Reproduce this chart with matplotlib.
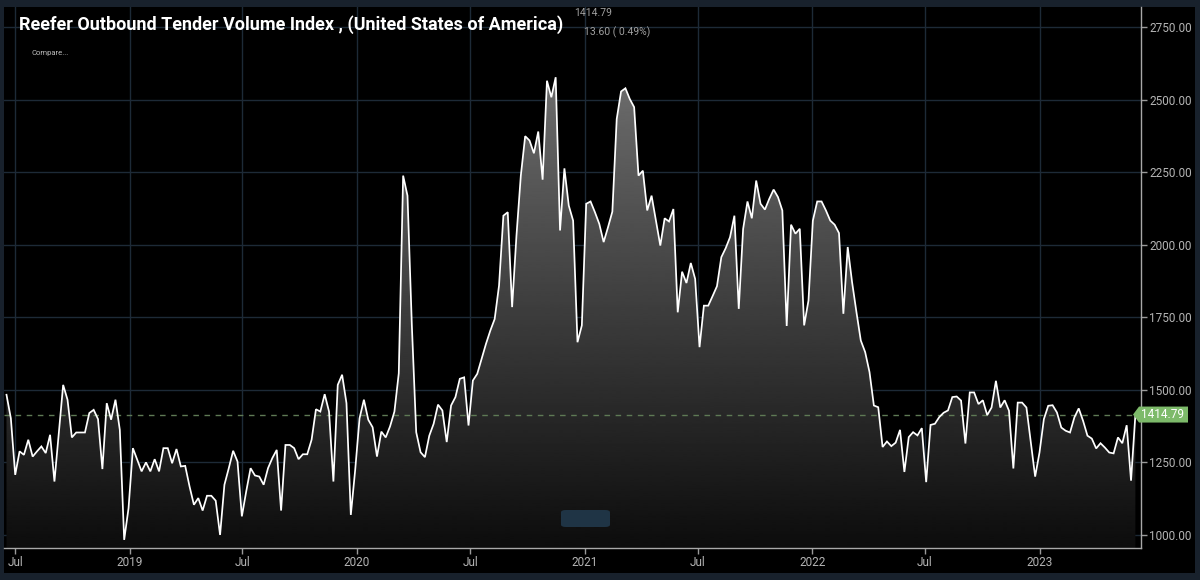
import numpy as np
import pandas as pd
import matplotlib
matplotlib.use("Agg")
import matplotlib.pyplot as plt
from matplotlib.patches import Polygon, FancyBboxPatch, Rectangle
from matplotlib.transforms import IdentityTransform

# weekly values
index_values = [
    1483, 1402, 1207, 1288, 1276, 1328, 1270, 1288, 1305, 1282,
    1345, 1184, 1350, 1517, 1466, 1336, 1353, 1353, 1353, 1420,
    1431, 1399, 1227, 1454, 1397, 1466, 1362, 983, 1092, 1299,
    1259, 1219, 1250, 1219, 1261, 1219, 1299, 1299, 1247, 1296,
    1236, 1238, 1167, 1104, 1127, 1084, 1135, 1135, 1118, 1000,
    1173, 1230, 1290, 1253, 1064, 1150, 1230, 1205, 1201, 1173,
    1230, 1265, 1293, 1084, 1310, 1310, 1299, 1261, 1278, 1278,
    1328, 1433, 1425, 1485, 1425, 1184, 1517, 1552, 1454, 1069,
    1224, 1402, 1466, 1397, 1371, 1270, 1356, 1336, 1374, 1425,
    1557, 2238, 2169, 1722, 1354, 1285, 1268, 1342, 1383, 1449,
    1429, 1320, 1446, 1475, 1538, 1543, 1377, 1532, 1555, 1607,
    1658, 1704, 1744, 1859, 2100, 2112, 1785, 2031, 2238, 2374,
    2359, 2315, 2390, 2224, 2565, 2508, 2577, 2049, 2263, 2135,
    2083, 1664, 1722, 2141, 2149, 2112, 2072, 2009, 2060, 2114,
    2433, 2528, 2539, 2502, 2474, 2238, 2255, 2118, 2169, 2083,
    1997, 2091, 2080, 2123, 1767, 1907, 1868, 1937, 1882, 1647,
    1790, 1790, 1823, 1857, 1957, 1988, 2026, 2100, 1779, 2054,
    2149, 2091, 2221, 2141, 2121, 2158, 2190, 2164, 2118, 1720,
    2069, 2038, 2055, 1722, 1808, 2083, 2149, 2149, 2118, 2083,
    2069, 2040, 1762, 1992, 1871, 1768, 1670, 1630, 1561, 1446,
    1440, 1303, 1322, 1306, 1318, 1362, 1217, 1337, 1354, 1343,
    1368, 1182, 1379, 1383, 1406, 1421, 1429, 1475, 1477, 1463,
    1315, 1491, 1491, 1451, 1464, 1413, 1439, 1531, 1439, 1464,
    1428, 1229, 1456, 1456, 1439, 1319, 1201, 1284, 1399, 1445,
    1447, 1422, 1370, 1359, 1353, 1405, 1436, 1393, 1342, 1332,
    1298, 1316, 1301, 1284, 1281, 1336, 1316, 1378, 1187, 1414.79,
]
start_date = "2018-06-17"
last_value = 1414.79
change_text = "13.60 ( 0.49%)"
title = "Reefer Outbound Tender Volume Index , (United States of America)"

x_tick_dates = ["2018-07-01", "2019-01-01", "2019-07-01", "2020-01-01", "2020-07-01",
                "2021-01-01", "2021-07-01", "2022-01-01", "2022-07-01", "2023-01-01"]
x_tick_labels = ["Jul", "2019", "Jul", "2020", "Jul", "2021", "Jul", "2022", "Jul", "2023"]
y_ticks = [1000, 1250, 1500, 1750, 2000, 2250, 2500, 2750]

W, H = 1200, 580
dates = pd.date_range(start_date, periods=len(index_values), freq="7D")
xnum = matplotlib.dates.date2num(dates)
ylo, yhi = 955, 2819
xlo = matplotlib.dates.date2num(pd.Timestamp("2018-06-13"))
xhi = matplotlib.dates.date2num(pd.Timestamp("2023-06-13"))

fig = plt.figure(figsize=(W / 100, H / 100), dpi=100, facecolor="#18212c")
fig.patches.append(Rectangle((4 / W, 7 / H), 1191 / W, 566 / H, transform=fig.transFigure,
                             facecolor="black", edgecolor="none", zorder=-5))
ax = fig.add_axes([4 / W, (H - 548) / H, 1137 / W, 541 / H])
ax.set_zorder(1)
ax.set_facecolor("black")
ax.set_xlim(xlo, xhi)
ax.set_ylim(ylo, yhi)

# gradient fill under the line
levels = np.linspace(ylo, yhi, 300)
shade = np.clip(0.06 + (levels - 1000) * 0.000232, 0.04, 1)[:, None]
im = ax.imshow(shade, cmap="gray", vmin=0, vmax=1, origin="lower", aspect="auto",
               extent=[xlo, xhi, ylo, yhi], zorder=1, interpolation="bilinear")
fill = ax.fill_between(xnum, index_values, ylo, color="none", lw=0)
im.set_clip_path(fill.get_paths()[0], transform=ax.transData)

ax.plot(xnum, index_values, color="white", lw=1.25, zorder=3, solid_joinstyle="miter")
ax.axhline(last_value, color="#5f7a55", lw=1, ls=(0, (4, 4)), zorder=2)

ax.set_xticks(matplotlib.dates.date2num(pd.to_datetime(x_tick_dates)))
ax.set_xticklabels(x_tick_labels)
ax.set_yticks(y_ticks)
ax.set_yticklabels(["%.2f" % v for v in y_ticks])
ax.yaxis.tick_right()
ax.grid(True, color="#1d2a37", lw=1, zorder=0)
ax.set_axisbelow(True)
ax.tick_params(axis="both", colors="#9a9a9a", labelcolor="#b4b4b4", length=4, width=1,
               labelsize=8.5, pad=2)
for lab in ax.get_xticklabels() + ax.get_yticklabels():
    lab.set_fontfamily(["Roboto", "DejaVu Sans"])
for side in ["top", "left"]:
    ax.spines[side].set_visible(False)
for side in ["right", "bottom"]:
    ax.spines[side].set_color("#a8a8a8")
    ax.spines[side].set_linewidth(1)

# title and header texts
fig.text(19 / W, 1 - 25 / H, title, color="white", fontsize=13, fontweight="bold",
         family=["Roboto", "DejaVu Sans"], va="center", ha="left", zorder=5)
fig.text(574 / W, 1 - 13 / H, "%.2f" % last_value, color="#a0a0a0", fontsize=7.5,
         family=["Roboto", "DejaVu Sans"], va="center", ha="left", zorder=5)
fig.text(584 / W, 1 - 32 / H, change_text, color="#a0a0a0", fontsize=7.5,
         family=["Roboto", "DejaVu Sans"], va="center", ha="left", zorder=5)
fig.text(31 / W, 1 - 53 / H, "Compare...", color="#bdbdbd", fontsize=5.5,
         family=["Roboto", "DejaVu Sans"], va="center", ha="left", zorder=5)

# scrollbar button
fig.patches.append(FancyBboxPatch((561 / W, (H - 527) / H), 49 / W, 17 / H,
                                  boxstyle="round,pad=0,rounding_size=0.004",
                                  transform=fig.transFigure, facecolor="#1f3445",
                                  edgecolor="none", zorder=5))

# last value marker on the axis
fig.canvas.draw()
px, py = ax.get_yaxis_transform().transform((1.0, last_value))
tag = [(px - 8, py), (px - 2, py + 8), (px + 47, py + 8), (px + 47, py - 8), (px - 2, py - 8)]
fig.patches.append(Polygon(tag, closed=True, transform=IdentityTransform(),
                           facecolor="#7dba6a", edgecolor="none", zorder=6))
fig.text((px + 22) / W, py / H, "%.2f" % last_value, color="white", fontsize=8.5,
         family=["Roboto", "DejaVu Sans"], va="center", ha="center", zorder=7)

fig.savefig("out.png", dpi=100, facecolor=fig.get_facecolor())
